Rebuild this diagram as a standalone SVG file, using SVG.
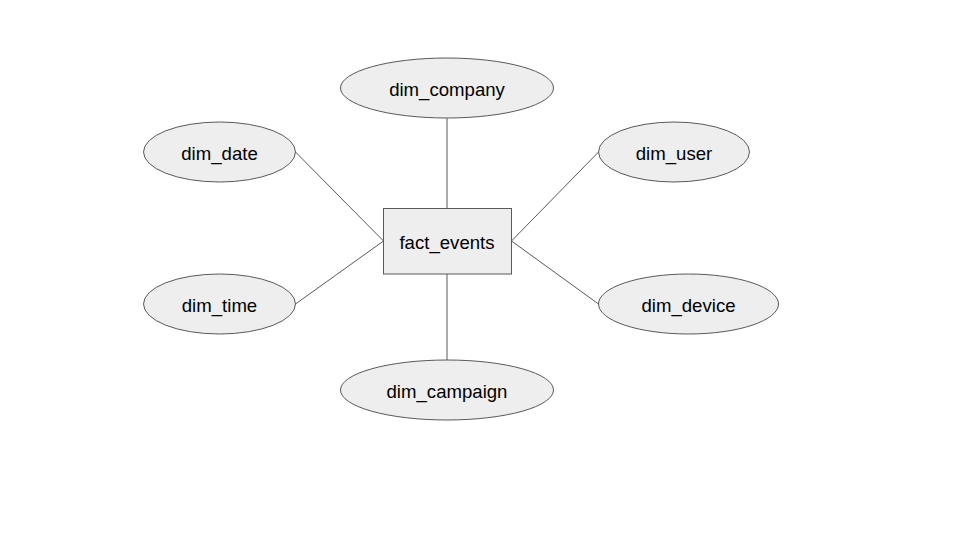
<svg xmlns="http://www.w3.org/2000/svg" width="960" height="540" viewBox="0 0 960 540">
<style>
.n{fill:#eeeeee;stroke:#595959;stroke-width:1}
.c{stroke:#595959;stroke-width:1;fill:none}
text{font-family:"Liberation Sans",Arial,sans-serif;font-size:18.6px;fill:#000;text-anchor:middle;dominant-baseline:central}
</style>
<rect width="960" height="540" fill="#ffffff"/>
<g id="connectors">
<line class="c" x1="447" y1="118" x2="447" y2="208"/>
<line class="c" x1="447" y1="360" x2="447" y2="274"/>
<line class="c" x1="295.5" y1="152" x2="383.5" y2="241"/>
<line class="c" x1="295.5" y1="304" x2="383.5" y2="241"/>
<line class="c" x1="598.5" y1="152" x2="511.5" y2="241"/>
<line class="c" x1="598.5" y1="304" x2="511.5" y2="241"/>
</g>
<g id="fact_events">
<rect class="n" x="383.5" y="208.5" width="128" height="65.5"/>
<text x="447" y="242">fact_events</text>
</g>
<g id="dim_company">
<ellipse class="n" cx="447" cy="88" rx="106.5" ry="30"/>
<text x="447" y="89">dim_company</text>
</g>
<g id="dim_date">
<ellipse class="n" cx="219.5" cy="152" rx="76" ry="30"/>
<text x="219.5" y="153">dim_date</text>
</g>
<g id="dim_time">
<ellipse class="n" cx="219.5" cy="304" rx="76" ry="30"/>
<text x="219.5" y="305">dim_time</text>
</g>
<g id="dim_user">
<ellipse class="n" cx="674" cy="152" rx="75.5" ry="30"/>
<text x="674" y="153">dim_user</text>
</g>
<g id="dim_device">
<ellipse class="n" cx="688.5" cy="304" rx="90" ry="30"/>
<text x="688.5" y="305">dim_device</text>
</g>
<g id="dim_campaign">
<ellipse class="n" cx="447" cy="390" rx="106.5" ry="30"/>
<text x="447" y="391">dim_campaign</text>
</g>
</svg>
